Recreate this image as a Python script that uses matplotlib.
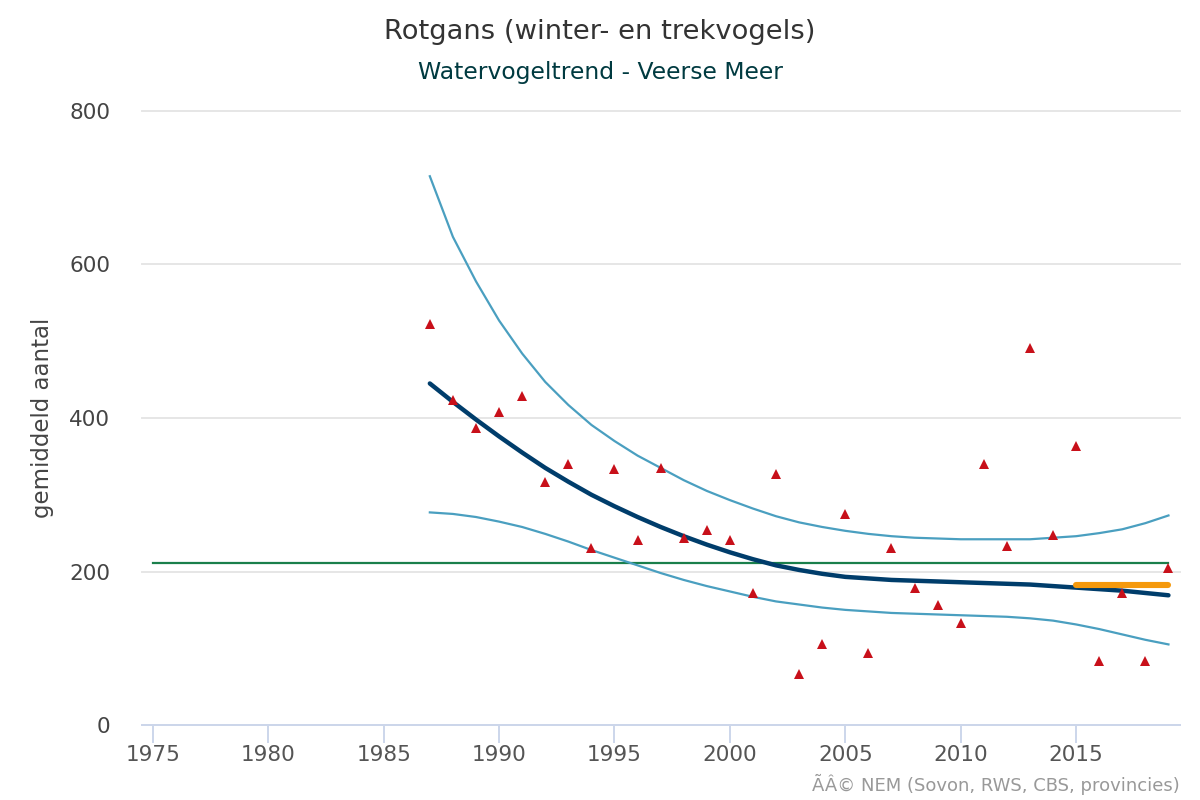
import matplotlib as mpl
import numpy as np
import matplotlib.pyplot as plt

plt.rcParams['font.family'] = ['DejaVu Sans']

#%% Data
trend_years = list(range(1987, 2020))
trend = [445, 421, 398, 376, 355, 335, 317, 300, 285, 271, 258, 246, 235, 225, 216, 208, 202, 197, 193, 191, 189, 188, 187, 186, 185, 184, 183, 181, 179, 177, 175, 172, 169]
upper = [715, 636, 578, 527, 484, 447, 417, 391, 370, 351, 335, 319, 305, 293, 282, 272, 264, 258, 253, 249, 246, 244, 243, 242, 242, 242, 242, 244, 246, 250, 255, 263, 273]
lower = [277, 275, 271, 265, 258, 249, 239, 228, 218, 208, 198, 189, 181, 174, 167, 161, 157, 153, 150, 148, 146, 145, 144, 143, 142, 141, 139, 136, 131, 125, 118, 111, 105]
counts = [523, 424, 387, 408, 429, 317, 340, 230, 333, 241, 335, 243, 254, 241, 172, 327, 66, 105, 275, 94, 230, 178, 157, 133, 340, 233, 491, 248, 364, 84, 172, 84, 204]

norm_years = [1975, 2019]
norm_value = [211, 211]
target_years = [2015, 2019]
target_value = [182, 182]

x_ticks = list(range(1975, 2020, 5))
y_ticks = [0, 200, 400, 600, 800]

#%% Plot
fig = plt.figure(figsize=(12, 8), dpi=100)
ax = fig.add_axes([142/1200, 1-725/800, (1180-142)/1200, (725-111)/800])

ax.plot(norm_years, norm_value, color='#1a7f4b', lw=1.6, zorder=2)
ax.plot(trend_years, upper, color='#4a9fc0', lw=1.6, zorder=3)
ax.plot(trend_years, lower, color='#4a9fc0', lw=1.6, zorder=3)
ax.plot(trend_years, trend, color='#003d6b', lw=3.2, solid_capstyle='round', zorder=4)
ax.plot(target_years, target_value, color='#f5990c', lw=4.4, solid_capstyle='round', zorder=5)
ax.plot(trend_years, counts, ls='none', marker='^', ms=7.6, mew=0, color='#c8101a', zorder=6)

ax.set_xlim(1974.53, 2019.5)
ax.set_ylim(0, 800)
ax.set_xticks(x_ticks)
ax.set_yticks(y_ticks)
ax.grid(axis='y', color='#e6e6e6', lw=1.4, clip_on=False)
ax.set_axisbelow(True)
for s in ['top', 'right', 'left']:
    ax.spines[s].set_visible(False)
ax.spines['bottom'].set_color('#ccd6eb')
ax.spines['bottom'].set_linewidth(1.4)
ax.tick_params(axis='x', color='#ccd6eb', length=13, width=1.4, labelsize=15.5, labelcolor='#555555', pad=1.5)
ax.tick_params(axis='y', length=0, labelsize=15.5, labelcolor='#444444', pad=23)
ax.set_ylabel('gemiddeld aantal', fontsize=16.5, color='#444444', labelpad=11)

fig.text(600/1200, 1-32/800, 'Rotgans (winter- en trekvogels)', ha='center', va='center', fontsize=19.7, color='#333333')
fig.text(600/1200, 1-72/800, 'Watervogeltrend - Veerse Meer', ha='center', va='center', fontsize=16.9, color='#003a40')
fig.text(1180/1200, 1-784/800, 'ÃÂ© NEM (Sovon, RWS, CBS, provincies)', ha='right', va='center', fontsize=13, color='#999999')

plt.savefig('out.png', dpi=100, format='png')
